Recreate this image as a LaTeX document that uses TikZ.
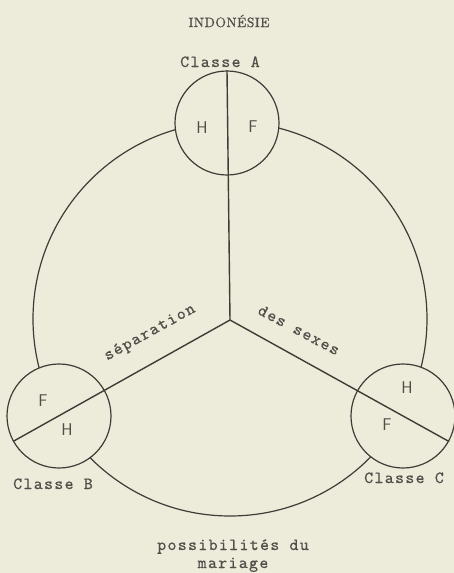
\documentclass[tikz,border=0pt]{standalone}
\usepackage{fontspec}
\newfontfamily\twfont{lmmono10-regular}[Extension=.otf,LetterSpace=8,FakeBold=0.6]
\newfontfamily\ttlfont{lmroman10-regular}[Extension=.otf,LetterSpace=4,FakeBold=0.8]
\definecolor{bg}{RGB}{237,235,218}
\definecolor{ink}{RGB}{62,60,55}
\definecolor{txt}{RGB}{80,78,72}
\begin{document}
\begin{tikzpicture}[x=1pt,y=-1pt,
  ring/.style={circle,draw=ink,line width=1.2pt,fill=bg,minimum size=104pt,inner sep=0pt},
  bigring/.style={circle,draw=ink,line width=1.2pt,minimum size=394pt,inner sep=0pt},
  spoke/.style={draw=ink,line width=1.4pt},
  tw/.style={font=\fontsize{17}{20}\selectfont\twfont,text=txt,inner sep=0pt},
  sx/.style={font=\fontsize{17}{20}\selectfont\sffamily,text=txt,inner sep=0pt},
  titlefont/.style={font=\fontsize{13.5}{15}\selectfont\ttlfont,text=txt,inner sep=0pt}]
\fill[bg] (0,0) rectangle (454,573);
\useasboundingbox (0,0) rectangle (454,573);
% big circle
\node[bigring] (O) at (230,319) {};
\coordinate (M) at (230,320);
% small circles
\node[ring] (A) at (227,123) {};
\node[ring] (B) at (59,416) {};
\node[ring] (C) at (403,416) {};
% spokes
\draw[spoke] (M) -- (A.north);
\draw[spoke] (M) -- (B.209);
\draw[spoke] (M) -- (C.331);
% letters in circles
\node[sx] (AH) at (202,128) {H};
\node[sx] (AF) at (253,127) {F};
\node[sx] (BF) at (43,401) {F};
\node[sx] (BH) at (67,430) {H};
\node[sx] (CH) at (407,388) {H};
\node[sx] (CF) at (387,425) {F};
% class labels
\node[tw,anchor=base] (LA) at (220,67) {Classe A};
\node[tw,anchor=base] (LB) at (53,489) {Classe B};
\node[tw,anchor=base] (LC) at (404,483) {Classe C};
% title
\node[titlefont,anchor=base] (T) at (229,27) {INDONÉSIE};
% spoke labels
\node[tw,rotate=29] (S1) at (150,333) {séparation};
\node[tw,rotate=-28] (S2) at (299,330) {des sexes};
% bottom
\node[tw,anchor=base] (P1) at (233,550) {possibilités du};
\node[tw,anchor=base] (P2) at (233,568) {mariage};
\end{tikzpicture}
\end{document}
